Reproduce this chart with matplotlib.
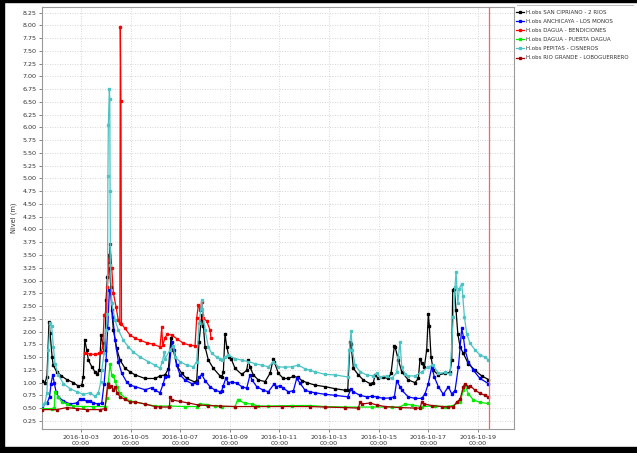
import matplotlib
matplotlib.use("Agg")
import matplotlib.pyplot as plt
import matplotlib.dates as mdates
from matplotlib.lines import Line2D
from matplotlib.patches import Rectangle
import pandas as pd

# Hourly water-level observations, hours counted from 2016-10-01 00:00
BASE = pd.Timestamp('2016-10-01 00:00')

cipriano_h = [10, 13, 15, 17, 18, 20, 21, 24.5, 29, 34, 40.5, 45.4, 48.7, 50.2, 51.6, 53.5,
              55.1, 58.4, 61.5, 63.8, 65.7, 67.4, 69, 70.3, 71.2, 72.2, 73.5, 75.1, 76.7,
              77.7, 79.3, 82.5, 85.7, 90.6, 95.4, 100.3, 109.9, 119.6, 124.4, 129.3, 132.5,
              135.1, 137.3, 140.6, 145.4, 150.3, 158.3, 159.9, 162.2, 164.8, 166.4, 168.0,
              171.2, 176.0, 182.5, 184.1, 185.7, 187.3, 189.0, 191.2, 193.2, 197.0, 203.5,
              208.3, 209.9, 211.5, 214.7, 219.6, 226.1, 230.9, 234.1, 235.1, 239.0, 243.8,
              248.6, 253.5, 258.3, 261.6, 266.4, 274.4, 284.1, 293.8, 303.5, 306.1, 308.3,
              309.3, 311.5, 316.4, 321.2, 327.7, 330.9, 332.5, 335.7, 340.5, 345.4, 348.0,
              351.2, 351.9, 355.1, 358.4, 364.7, 371.2, 374.4, 376.1, 377.7, 380.2, 382.5,
              384.1, 385.1, 386.7, 388.9, 393.8, 400.2, 405.1, 406.7, 407.7, 409.3, 410.9,
              412.6, 414.8, 418.0, 422.8, 429.3, 435.8, 442.2]
cipriano_v = [1.03, 1.00, 1.11, 2.19, 1.97, 1.50, 1.34, 1.21, 1.13, 1.06, 1.00, 0.93, 0.95,
              1.11, 1.84, 1.64, 1.44, 1.31, 1.21, 1.17, 1.24, 1.93, 1.77, 1.60, 1.62, 2.61,
              3.07, 3.50, 2.88, 2.42, 2.03, 1.67, 1.44, 1.28, 1.21, 1.15, 1.08, 1.08, 1.13,
              1.15, 1.27, 1.88, 1.64, 1.34, 1.18, 1.08, 1.01, 1.04, 1.80, 2.32, 2.10, 1.70,
              1.44, 1.28, 1.13, 1.10, 1.20, 1.96, 1.70, 1.50, 1.47, 1.28, 1.16, 1.24, 1.44,
              1.31, 1.15, 1.05, 1.02, 1.18, 1.47, 1.40, 1.18, 1.08, 1.08, 1.12, 1.10, 1.04,
              1.00, 0.95, 0.92, 0.88, 0.85, 0.85, 1.80, 1.75, 1.28, 1.15, 1.05, 0.98, 1.00,
              1.15, 1.08, 1.10, 1.08, 1.18, 1.72, 1.70, 1.44, 1.21, 1.05, 1.00, 1.08, 1.47,
              1.38, 1.30, 1.64, 2.35, 2.10, 1.50, 1.24, 1.15, 1.18, 1.20, 1.44, 2.81, 2.84,
              2.42, 1.96, 1.70, 1.57, 1.37, 1.24, 1.13, 1.06]

monos_h = [10, 15, 17.5, 19, 20.6, 22, 23.8, 26, 30.9, 37.4, 43.8, 47, 50.2, 53.5, 56.7,
           59.9, 64.7, 68, 70.3, 72.2, 73.8, 75.4, 77.0, 78.7, 80.9, 84.1, 87.4, 92.2, 95.4,
           100.3, 109.9, 116.4, 119.6, 124.4, 127.6, 129.3, 132.5, 135.8, 138.3, 140.6,
           143.8, 148.6, 155.1, 159.9, 162.2, 164.8, 168.0, 172.8, 177.7, 182.5, 184.1,
           185.7, 188.0, 190.5, 193.8, 198.7, 203.5, 208.3, 211.5, 213.5, 218.0, 224.4,
           229.3, 235.1, 237.0, 240.6, 243.8, 248.6, 253.5, 256.7, 259.9, 264.8, 269.6,
           274.4, 284.1, 293.8, 306.1, 309.3, 311.5, 318.0, 324.5, 329.3, 334.2, 340.5,
           347.0, 351.2, 353.5, 356.7, 358.4, 364.7, 371.2, 377.7, 380.9, 384.1, 387.4,
           389.9, 393.8, 398.6, 403.5, 406.7, 409.9, 413.2, 416.4, 418.0, 419.6, 422.8,
           427.7, 434.1, 442.2]
monos_v = [0.54, 0.59, 0.72, 0.98, 1.15, 1.00, 0.82, 0.72, 0.64, 0.58, 0.60, 0.67, 0.67,
           0.63, 0.64, 0.60, 0.58, 0.60, 0.98, 1.44, 2.06, 2.81, 2.75, 2.29, 1.83, 1.41,
           1.18, 1.01, 0.95, 0.92, 0.86, 0.90, 0.85, 0.80, 0.98, 1.11, 1.12, 1.80, 1.64,
           1.34, 1.15, 1.05, 0.98, 1.00, 1.10, 1.16, 1.04, 0.92, 0.85, 0.82, 0.84, 0.94,
           1.08, 1.00, 1.01, 0.99, 0.92, 0.89, 1.15, 1.05, 0.92, 0.85, 0.82, 0.98, 0.92,
           0.94, 0.89, 0.82, 0.84, 1.08, 0.99, 0.85, 0.82, 0.80, 0.77, 0.75, 0.72, 0.88,
           0.82, 0.75, 0.72, 0.73, 0.72, 0.69, 0.70, 0.72, 1.03, 0.92, 0.85, 0.72, 0.69,
           0.69, 0.78, 0.98, 1.31, 1.11, 0.92, 0.77, 0.92, 0.78, 0.84, 1.31, 2.06, 1.90,
           1.64, 1.41, 1.24, 1.08, 0.98]

bendiciones_h = [51.9, 56.7, 61.5, 65.7, 67.4, 69.0, 70.3, 72.2, 73.5, 75.1, 76.1, 77.7,
                 79.3, 81.9, 84.1, 85.5, 86.0, 86.6, 87.1, 90.6, 95.4, 100.3, 105.1, 111.6,
                 118.0, 124.4, 126.1, 127.0, 129.3, 131.5, 135.8, 140.6, 147.0, 153.5,
                 158.3, 159.9, 161.5, 163.2, 164.8, 166.4, 169.7, 172.8, 173.8]
bendiciones_v = [1.58, 1.56, 1.55, 1.57, 1.60, 1.70, 2.32, 2.38, 2.88, 3.40, 3.71, 3.24,
                 2.75, 2.48, 2.22, 2.16, 7.97, 6.51, 2.15, 2.06, 1.93, 1.87, 1.83, 1.78,
                 1.75, 1.70, 2.08, 1.73, 1.88, 1.95, 1.93, 1.86, 1.77, 1.73, 1.72, 2.26,
                 2.52, 2.42, 2.58, 2.27, 2.20, 2.03, 1.87]

puerta_h = [10, 20, 22, 22.8, 26, 29.3, 34.2, 40.5, 50.2, 59.9, 71.2, 72.9, 74.4, 76.1,
            77.7, 79.3, 81.0, 82.5, 85.7, 90.6, 95.4, 100.3, 109.9, 119.6, 134.1, 148.6,
            160, 163.2, 169.7, 177.7, 184.1, 197.0, 199.6, 201.0, 206.7, 213.2, 219.6,
            229.3, 251.9, 269.6, 284.1, 303.5, 329.3, 348.7, 356.7, 361.5, 368.0, 377.7,
            390.6, 400.2, 408.3, 414.8, 418.0, 419.6, 422.8, 427.7, 434.1, 442.2]
puerta_v = [0.49, 0.49, 0.50, 0.82, 0.72, 0.62, 0.58, 0.54, 0.53, 0.53, 0.53, 0.70, 1.00,
            1.37, 1.15, 1.12, 1.04, 0.92, 0.79, 0.70, 0.64, 0.62, 0.58, 0.54, 0.54, 0.53,
            0.53, 0.58, 0.57, 0.54, 0.53, 0.53, 0.66, 0.65, 0.59, 0.58, 0.54, 0.54, 0.55,
            0.55, 0.53, 0.52, 0.52, 0.52, 0.52, 0.58, 0.56, 0.53, 0.54, 0.53, 0.55, 0.62,
            0.85, 0.95, 0.78, 0.66, 0.61, 0.59]

cisneros_h = [10, 13, 15, 16.4, 18, 19.6, 21.2, 22.8, 26, 30.9, 37.4, 43.8, 50.2, 56.7,
              61.5, 64.7, 67.1, 68, 70.3, 72.2, 73.5, 74.0, 74.4, 75.4, 75.8, 76.1, 76.4,
              77.7, 80.9, 84.1, 88.9, 93.8, 98.6, 105.1, 113.1, 119.6, 124.4, 126.7, 128.6,
              129.3, 134.1, 137.3, 139.0, 143.8, 150.3, 156.7, 159.9, 162.2, 164.8, 165.4,
              168.0, 171.2, 174.5, 179.3, 182.5, 184.1, 187.3, 190.5, 197.0, 203.5, 209.9,
              216.4, 222.9, 229.3, 234.1, 239.0, 245.4, 251.9, 258.3, 264.8, 269.6, 274.4,
              284.1, 293.8, 306.1, 307.6, 309.3, 310.5, 313.2, 318.0, 324.5, 330.9, 334.2,
              337.4, 343.8, 348.7, 353.5, 355.1, 356.7, 358.4, 361.5, 364.7, 371.2, 377.7,
              384.1, 388.9, 393.8, 400.2, 405.1, 408.3, 409.9, 410.9, 412.6, 414.1, 416.4,
              417.4, 419.0, 421.2, 424.4, 429.3, 434.1, 439.0, 442.2]
cisneros_v = [0.56, 0.60, 0.79, 1.64, 2.17, 2.10, 1.70, 1.37, 1.15, 0.98, 0.88, 0.82, 0.77,
              0.80, 0.73, 0.80, 1.01, 1.24, 1.57, 2.03, 2.35, 5.05, 6.05, 6.76, 6.55, 4.75,
              3.30, 2.55, 2.22, 2.03, 1.83, 1.70, 1.60, 1.50, 1.41, 1.34, 1.28, 1.41, 1.60,
              1.47, 1.64, 1.72, 1.50, 1.41, 1.34, 1.31, 1.41, 2.16, 2.61, 2.45, 2.03, 1.70,
              1.57, 1.50, 1.47, 1.44, 1.50, 1.54, 1.47, 1.44, 1.41, 1.37, 1.34, 1.31, 1.41,
              1.31, 1.30, 1.31, 1.34, 1.27, 1.24, 1.21, 1.16, 1.15, 1.11, 1.64, 2.01, 1.64,
              1.34, 1.21, 1.15, 1.13, 1.18, 1.11, 1.13, 1.08, 1.20, 1.50, 1.80, 1.30, 1.17,
              1.13, 1.13, 1.21, 1.31, 1.34, 1.18, 1.20, 1.17, 2.29, 2.88, 3.17, 2.55, 2.84,
              2.94, 2.70, 2.29, 1.96, 1.77, 1.64, 1.54, 1.50, 1.44]

loboguerrero_h = [10, 24.5, 34.2, 43.8, 53.5, 66.4, 71.2, 73.8, 75.4, 77.0, 79.3, 80.9,
                  83.1, 85.7, 90.6, 95.4, 100.3, 109.9, 119.6, 124.4, 133.5, 134.1, 136.0,
                  143.8, 151.8, 161.5, 171.2, 182.5, 197.0, 216.4, 242.2, 269.6, 284.1,
                  303.5, 316.4, 318.0, 319.7, 327.7, 334.2, 342.2, 356.7, 371.2, 376.1,
                  377.7, 380.2, 387.4, 397.1, 403.5, 408.3, 411.6, 414.8, 418.0, 419.6,
                  422.8, 424.4, 429.3, 434.1, 439.0, 442.2]
loboguerrero_v = [0.47, 0.47, 0.51, 0.49, 0.47, 0.47, 0.49, 0.98, 0.91, 0.94, 0.85, 0.91,
                  0.80, 0.72, 0.67, 0.62, 0.62, 0.58, 0.53, 0.52, 0.52, 0.71, 0.66, 0.63,
                  0.60, 0.56, 0.55, 0.54, 0.53, 0.53, 0.53, 0.53, 0.52, 0.51, 0.50, 0.62,
                  0.58, 0.60, 0.56, 0.53, 0.51, 0.50, 0.50, 0.62, 0.58, 0.55, 0.53, 0.52,
                  0.53, 0.62, 0.67, 0.92, 0.98, 0.92, 0.94, 0.85, 0.79, 0.75, 0.72]

SERIES = [
    ('H.obs SAN CIPRIANO - 2 RIOS', cipriano_h, cipriano_v, '#000000'),
    ('H.obs ANCHICAYA - LOS MONOS', monos_h, monos_v, '#0000FF'),
    ('H.obs DAGUA - BENDICIONES', bendiciones_h, bendiciones_v, '#FF0000'),
    ('H.obs DAGUA - PUERTA DAGUA', puerta_h, puerta_v, '#00EE00'),
    ('H.obs PEPITAS - CISNEROS', cisneros_h, cisneros_v, '#4CC4C4'),
    ('H.obs RIO GRANDE - LOBOGUERRERO', loboguerrero_h, loboguerrero_v, '#A00000'),
]

NOW_H = 443.2


def to_time(hours):
    return BASE + pd.to_timedelta(hours, unit='h')


W, H = 637, 453
fig = plt.figure(figsize=(W / 100, H / 100), dpi=100)
ax = fig.add_axes([42 / W, 1 - 429 / H, (514 - 42) / W, (429 - 7) / H])

for name, hrs, vals, col in SERIES:
    ax.plot(to_time(hrs), vals, color=col, lw=0.9, marker='s', ms=1.6,
            mec=col, mfc=col, label=name, zorder=3)

ax.axvline(to_time(NOW_H), color='#FF6060', lw=0.9, zorder=4)

ax.set_xlim(to_time(10.2), to_time(467.0))
ax.set_ylim(0.09, 8.36)

ax.xaxis.set_major_locator(mdates.DayLocator(bymonthday=range(3, 32, 2)))
ax.xaxis.set_major_formatter(mdates.DateFormatter('%Y-%m-%d\n%H:%M'))
ax.set_yticks([i * 0.25 for i in range(1, 34)])
ax.yaxis.set_major_formatter(plt.FuncFormatter(lambda v, p: f'{v:.2f}'))

ax.tick_params(axis='both', labelsize=4.6, colors='#555555', length=2, width=0.5,
               labelcolor='#333333', pad=2)
for lab in ax.get_xticklabels():
    lab.set_linespacing(1.3)

ax.grid(True, color='#C8C8C8', lw=0.6, ls=(0, (1, 2)))
for sp in ax.spines.values():
    sp.set_color('#9A9A9A')
    sp.set_linewidth(0.8)

ax.set_ylabel('Nivel (m)', fontsize=4.8, color='#333333')
ax.yaxis.set_label_coords(-(42 - 17) / 472, 0.5)

# legend to the right of the plot
handles = [Line2D([], [], color=c, lw=0.9, marker='s', ms=1.4) for _, _, _, c in SERIES]
labels = [n for n, _, _, _ in SERIES]
fig.legend(handles, labels, loc='upper left', bbox_to_anchor=(514 / W, 1 - 8 / H),
           frameon=False, fontsize=4.0, handlelength=1.5, handletextpad=0.3,
           labelspacing=0.75, borderaxespad=0, borderpad=0.3, labelcolor='#333333')
fig.add_artist(Line2D([517 / W, 633 / W], [1 - 5 / H, 1 - 5 / H],
                      color='#B0B0B0', lw=0.6, transform=fig.transFigure))

# outer black frame
for x0, y0, w, h in [(0, 1 - 2 / H, 1, 2 / H), (0, 0, 4 / W, 1), (0, 0, 1, 6 / H)]:
    fig.add_artist(Rectangle((x0, y0), w, h, color='black', transform=fig.transFigure,
                             zorder=10))

fig.savefig('out.png', dpi=100)
